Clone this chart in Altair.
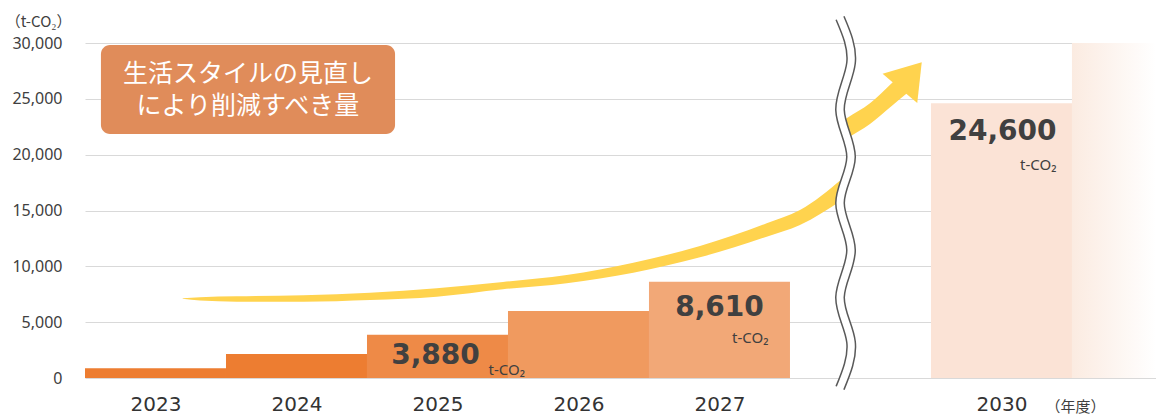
import altair as alt
import pandas as pd

# ---------------- data ----------------
years = ["2023", "2024", "2025", "2026", "2027", "2030"]
year_slots = [0, 1, 2, 3, 4, 6]          # slot 5 is the axis break
values = [870, 2150, 3880, 6000, 8610, 24600]
bar_colors = ["#ED7D31", "#ED7D31", "#EE8A47", "#F09A5F", "#F2A877", "#FBE3D6"]

y_ticks = [0, 5000, 10000, 15000, 20000, 25000, 30000]

fade_slot = [7]
fade_value = [30000]

# rounded callout box (slot / t-CO2 units)
box_x = [0.113]
box_x2 = [2.199]
box_y = [29820]
box_y2 = [21850]
box_lines = ["生活スタイルの見直し", "により削減すべき量"]

# yellow swoosh arrow: lower piece (top / bottom edges)
arrow_low_x = [0.6929, 0.8156, 1.0759, 1.5482, 2.0213, 2.4943, 2.9645, 3.4163,
               3.8887, 4.3617, 4.8348, 5.0709, 5.3688]
arrow_low_top = [7137, 7236, 7316, 7406, 7639, 8033, 8597, 9224,
                 10325, 11821, 13854, 15045, 17821]
arrow_low_bot = [7093, 6931, 6833, 6833, 6985, 7281, 7943, 8481,
                 9430, 10809, 12654, 13701, 15940]
# upper piece (after the axis break)
arrow_up_x = [5.3759, 5.4021, 5.5674, 5.7213, 5.8298]
arrow_up_top = [23015, 23257, 24600, 26391, 27672]
arrow_up_bot = [21269, 21466, 22746, 24358, 25495]
head_x = [5.8571]
head_y = [27107]

# axis break wave (peaks)
break_x = [5.355, 5.433, 5.355, 5.433, 5.355, 5.433, 5.355, 5.433, 5.355]
break_y = [32239, 28209, 24000, 19791, 15672, 11463, 7254, 3224, -896]

X_MAX = 7.596
Y_MAX = 30000

xscale = alt.Scale(domain=[0, X_MAX], nice=False, zero=False)
yscale = alt.Scale(domain=[0, Y_MAX], nice=False)

# x-axis label expression built from the year lists
label_expr = "''"
for s, yv in reversed(list(zip(year_slots, years))):
    label_expr = f"datum.value == {s + 0.5} ? '{yv}' : ({label_expr})"

x_axis = alt.Axis(
    values=[s + 0.5 for s in year_slots], labelExpr=label_expr,
    domain=False, ticks=False, tickSize=0, grid=False,
    labelFontSize=20, labelFont="DejaVu Sans", labelColor="#333333",
    labelPadding=26, labelBaseline="middle",
    title="（年度）", titleFont="Noto Sans CJK JP", titleFontSize=15,
    titleFontWeight="normal", titleColor="#404040",
    titleX=990, titleY=28, titleBaseline="middle", titleAlign="center")

y_axis = alt.Axis(
    values=y_ticks, labelExpr="format(datum.value, ',')",
    grid=True, gridColor="#D9D9D9", gridWidth=1,
    domain=False, ticks=False, tickSize=0, labelPadding=23,
    labelFontSize=16, labelFont="Noto Sans", labelColor="#404040",
    title="（t-CO₂）", titleAngle=0, titleAlign="right", titleBaseline="middle",
    titleX=-14, titleY=-22, titleFont="Noto Sans CJK JP", titleFontSize=15,
    titleFontWeight="normal", titleColor="#404040")


def X(f):
    return alt.X(f, type="quantitative", scale=xscale, axis=x_axis)


def Y(f):
    return alt.Y(f, type="quantitative", scale=yscale, axis=y_axis)


bars_df = pd.DataFrame({
    "year": years,
    "x": year_slots,
    "x2": [s + 1 for s in year_slots],
    "value": values,
})

bars = alt.Chart(bars_df).mark_rect().encode(
    x=X("x"), x2="x2:Q", y=Y("value"), y2=alt.datum(0),
    color=alt.Color("year:N", scale=alt.Scale(domain=years, range=bar_colors), legend=None),
)

fade_df = pd.DataFrame({"x": fade_slot, "value": fade_value})
fade = alt.Chart(fade_df).mark_rect(
    color=alt.LinearGradient(
        gradient="linear", x1=0, x2=1, y1=0, y2=0,
        stops=[alt.GradientStop(color="#FBEBE1", offset=0),
               alt.GradientStop(color="#FFFFFF", offset=1)])
).encode(x=X("x"), x2=alt.datum(X_MAX), y=Y("value"), y2=alt.datum(0))

box_df = pd.DataFrame({"x": box_x, "x2": box_x2, "y": box_y, "y2": box_y2,
                       "t": ["\n".join(box_lines)]})
box = alt.Chart(box_df).mark_rect(color="#E08C5A", cornerRadius=9).encode(
    x=X("x"), x2="x2:Q", y=Y("y"), y2="y2:Q")
box_txt = alt.Chart(box_df).transform_calculate(
    cx="(datum.x + datum.x2) / 2", cy="(datum.y + datum.y2) / 2"
).mark_text(
    color="white", font="Noto Sans CJK JP", fontSize=25, lineBreak="\n",
    lineHeight=32, align="center", baseline="middle", dy=-16
).encode(x=X("cx"), y=Y("cy"), text="t:N")

ARROW_COLOR = "#FFD34E"
low_df = pd.DataFrame({"x": arrow_low_x, "top": arrow_low_top, "bot": arrow_low_bot})
up_df = pd.DataFrame({"x": arrow_up_x, "top": arrow_up_top, "bot": arrow_up_bot})
arrow_low = alt.Chart(low_df).mark_area(color=ARROW_COLOR, interpolate="monotone").encode(
    x=X("x"), y=Y("top"), y2="bot:Q")
arrow_up = alt.Chart(up_df).mark_area(color=ARROW_COLOR, interpolate="monotone").encode(
    x=X("x"), y=Y("top"), y2="bot:Q")
head = alt.Chart(pd.DataFrame({"x": head_x, "y": head_y})).mark_point(
    shape="M0,-0.75L1,0.75L-1,0.75Z", filled=True, size=2052, angle=40,
    color=ARROW_COLOR, opacity=1, strokeWidth=0
).encode(x=X("x"), y=Y("y"))

brk_df = pd.DataFrame({"x": break_x, "y": break_y, "i": list(range(len(break_x)))})
brk_outer = alt.Chart(brk_df).mark_line(
    color="#595959", strokeWidth=10, interpolate="natural", strokeCap="butt"
).encode(x=X("x"), y=Y("y"), order=alt.Order("i:Q"))
brk_inner = alt.Chart(brk_df).mark_line(
    color="white", strokeWidth=7, interpolate="natural", strokeCap="square"
).encode(x=X("x"), y=Y("y"), order=alt.Order("i:Q"))

# value annotations
val_map = dict(zip(years, values))
slot_map = dict(zip(years, year_slots))


def big_label(year, dx, dy):
    df = pd.DataFrame({"x": [slot_map[year] + 0.5], "y": [val_map[year]]})
    return alt.Chart(df).transform_calculate(
        t="format(datum.y, ',')"
    ).mark_text(
        font="DejaVu Sans", fontWeight="bold", fontSize=28, color="#404040",
        align="center", baseline="middle", dx=dx, dy=dy
    ).encode(x=X("x"), y=Y("y"), text="t:N")


def unit_label(year, dx, dy, align):
    df = pd.DataFrame({"x": [slot_map[year] + 0.5], "y": [val_map[year]], "t": ["t-CO₂"]})
    return alt.Chart(df).mark_text(
        font="Noto Sans", fontSize=15, color="#404040",
        align=align, baseline="middle", dx=dx, dy=dy
    ).encode(x=X("x"), y=Y("y"), text="t:N")


labels = [
    big_label("2025", -2, 21),
    unit_label("2025", 51, 35, "left"),
    big_label("2027", 0, 26),
    unit_label("2027", 49, 56, "right"),
    big_label("2030", 1, 29),
    unit_label("2030", 55, 62, "right"),
]

chart = alt.layer(
    bars, fade, box, box_txt,
    arrow_low, arrow_up, head, brk_outer, brk_inner, *labels
).properties(
    width=1071, height=335,
    padding={"left": 85, "top": 43, "right": 0, "bottom": 36},
    autosize=alt.AutoSizeParams(type="none"),
    background="white",
).configure_view(strokeWidth=0)

chart.save("out.html", embed_options={"renderer": "svg", "actions": False})
